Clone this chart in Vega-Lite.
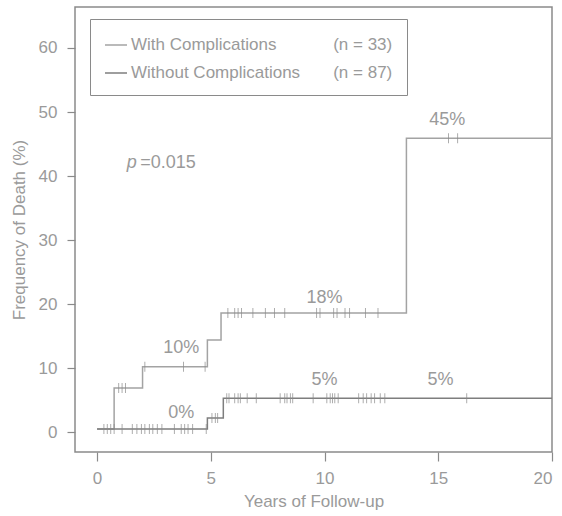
{
  "$schema": "https://vega.github.io/schema/vega-lite/v6.json",
  "width": 477,
  "height": 445,
  "autosize": {"type": "none"},
  "padding": {"left": 75, "top": 7, "right": 10, "bottom": 64},
  "background": "white",
  "config": {
    "view": {"stroke": "#8a8a8a", "strokeWidth": 1.5},
    "font": "Liberation Sans",
    "axis": {
      "domain": false,
      "grid": false,
      "tickColor": "#8a8a8a",
      "tickWidth": 1.2,
      "tickSize": 8,
      "labelColor": "#9a9a9a",
      "titleColor": "#9a9a9a",
      "labelFontSize": 17,
      "titleFontSize": 17,
      "titleFontWeight": "normal",
      "labelFont": "Liberation Sans",
      "titleFont": "Liberation Sans"
    }
  },
  "datasets": {
    "curves": [
      {"series": "With Complications", "t": 0, "pct": 0.5},
      {"series": "With Complications", "t": 0.75, "pct": 6.9},
      {"series": "With Complications", "t": 2.0, "pct": 10.2},
      {"series": "With Complications", "t": 4.85, "pct": 14.4},
      {"series": "With Complications", "t": 5.45, "pct": 18.6},
      {"series": "With Complications", "t": 13.6, "pct": 45.9},
      {"series": "With Complications", "t": 20, "pct": 45.9},
      {"series": "Without Complications", "t": 0, "pct": 0.5},
      {"series": "Without Complications", "t": 4.85, "pct": 2.2},
      {"series": "Without Complications", "t": 5.55, "pct": 5.3},
      {"series": "Without Complications", "t": 20, "pct": 5.3}
    ],
    "censor": [
      {"t": 0.3, "pct": 0.5}, {"t": 0.45, "pct": 0.5}, {"t": 0.6, "pct": 0.5}, {"t": 0.75, "pct": 0.5},
      {"t": 1.1, "pct": 0.5}, {"t": 1.55, "pct": 0.5}, {"t": 1.75, "pct": 0.5}, {"t": 1.95, "pct": 0.5},
      {"t": 2.1, "pct": 0.5}, {"t": 2.3, "pct": 0.5}, {"t": 2.45, "pct": 0.5}, {"t": 2.65, "pct": 0.5},
      {"t": 2.85, "pct": 0.5}, {"t": 3.4, "pct": 0.5}, {"t": 3.7, "pct": 0.5}, {"t": 3.85, "pct": 0.5},
      {"t": 4.0, "pct": 0.5}, {"t": 4.2, "pct": 0.5}, {"t": 4.8, "pct": 0.5},
      {"t": 5.05, "pct": 2.2}, {"t": 5.2, "pct": 2.2}, {"t": 5.3, "pct": 2.2},
      {"t": 5.7, "pct": 5.3}, {"t": 5.8, "pct": 5.3}, {"t": 6.05, "pct": 5.3}, {"t": 6.2, "pct": 5.3},
      {"t": 6.3, "pct": 5.3}, {"t": 6.6, "pct": 5.3}, {"t": 7.0, "pct": 5.3}, {"t": 8.05, "pct": 5.3},
      {"t": 8.25, "pct": 5.3}, {"t": 8.35, "pct": 5.3}, {"t": 8.5, "pct": 5.3}, {"t": 8.6, "pct": 5.3},
      {"t": 9.5, "pct": 5.3}, {"t": 10.1, "pct": 5.3}, {"t": 10.25, "pct": 5.3}, {"t": 10.35, "pct": 5.3},
      {"t": 10.45, "pct": 5.3}, {"t": 10.6, "pct": 5.3}, {"t": 11.5, "pct": 5.3}, {"t": 11.7, "pct": 5.3},
      {"t": 11.85, "pct": 5.3}, {"t": 12.05, "pct": 5.3}, {"t": 12.2, "pct": 5.3}, {"t": 12.45, "pct": 5.3},
      {"t": 12.65, "pct": 5.3}, {"t": 16.25, "pct": 5.3},
      {"t": 0.95, "pct": 6.9}, {"t": 1.1, "pct": 6.9}, {"t": 1.25, "pct": 6.9},
      {"t": 2.1, "pct": 10.2}, {"t": 3.8, "pct": 10.2}, {"t": 4.75, "pct": 10.2},
      {"t": 5.75, "pct": 18.6}, {"t": 6.05, "pct": 18.6}, {"t": 6.2, "pct": 18.6}, {"t": 6.35, "pct": 18.6},
      {"t": 6.85, "pct": 18.6}, {"t": 7.4, "pct": 18.6}, {"t": 7.8, "pct": 18.6}, {"t": 8.25, "pct": 18.6},
      {"t": 9.65, "pct": 18.6}, {"t": 9.8, "pct": 18.6}, {"t": 10.4, "pct": 18.6}, {"t": 10.55, "pct": 18.6},
      {"t": 10.9, "pct": 18.6}, {"t": 11.1, "pct": 18.6}, {"t": 11.8, "pct": 18.6}, {"t": 12.35, "pct": 18.6},
      {"t": 15.45, "pct": 45.9}, {"t": 15.85, "pct": 45.9}
    ],
    "notes": [
      {"t": 3.7, "pct": 13.1, "label": "10%"},
      {"t": 10.0, "pct": 20.9, "label": "18%"},
      {"t": 15.4, "pct": 48.8, "label": "45%"},
      {"t": 3.7, "pct": 3.0, "label": "0%"},
      {"t": 10.0, "pct": 8.1, "label": "5%"},
      {"t": 15.1, "pct": 8.1, "label": "5%"}
    ],
    "pnote": [{"t": 1.3, "pct": 42, "label": "p"}],
    "pval": [{"t": 1.9, "pct": 42, "label": "=0.015"}]
  },
  "encoding": {
    "x": {
      "field": "t",
      "type": "quantitative",
      "scale": {"domain": [-0.97, 20], "nice": false, "zero": false},
      "axis": {"values": [0, 5, 10, 15, 20], "title": "Years of Follow-up", "tickSize": 9, "labelPadding": 9, "titlePadding": 7}
    },
    "y": {
      "field": "pct",
      "type": "quantitative",
      "scale": {"domain": [-3.1, 66.4], "nice": false, "zero": false},
      "axis": {"values": [0, 10, 20, 30, 40, 50, 60], "title": "Frequency of Death (%)", "labelPadding": 10, "titlePadding": 10}
    }
  },
  "layer": [
    {
      "data": {"name": "curves"},
      "mark": {"type": "line", "interpolate": "step-after", "strokeWidth": 1.5},
      "encoding": {
        "color": {
          "field": "series",
          "type": "nominal",
          "scale": {"domain": ["With Complications", "Without Complications"], "range": ["#a3a3a3", "#7e7e7e"]},
          "legend": {
            "title": null,
            "orient": "none",
            "legendX": 15,
            "legendY": 12,
            "strokeColor": "#8a8a8a",
            "fillColor": "white",
            "padding": 14,
            "symbolType": "stroke",
            "symbolSize": 484,
            "symbolStrokeWidth": 1.5,
            "labelFontSize": 17,
            "labelColor": "#9a9a9a",
            "labelFont": "Liberation Sans",
            "labelOffset": 3,
            "labelLimit": 500,
            "rowPadding": 8,
            "labelExpr": "datum.label == 'With Complications' ? 'With Complications\u00a0\u00a0\u00a0\u00a0\u00a0\u00a0\u00a0\u00a0\u00a0\u00a0\u00a0\u00a0(n = 33)' : 'Without Complications\u00a0\u00a0\u00a0\u00a0\u00a0\u00a0\u00a0(n = 87)'"
          }
        }
      }
    },
    {
      "data": {"name": "censor"},
      "mark": {"type": "tick", "orient": "vertical", "size": 10, "thickness": 1, "color": "#8a8a8a"}
    },
    {
      "data": {"name": "notes"},
      "mark": {"type": "text", "fontSize": 18, "color": "#9a9a9a", "align": "center", "baseline": "middle", "font": "Liberation Sans"},
      "encoding": {"text": {"field": "label"}}
    },
    {
      "data": {"name": "pnote"},
      "mark": {"type": "text", "fontSize": 18, "fontStyle": "italic", "color": "#9a9a9a", "align": "left", "baseline": "middle", "font": "Liberation Sans"},
      "encoding": {"text": {"field": "label"}}
    },
    {
      "data": {"name": "pval"},
      "mark": {"type": "text", "fontSize": 18, "color": "#9a9a9a", "align": "left", "baseline": "middle", "font": "Liberation Sans"},
      "encoding": {"text": {"field": "label"}}
    }
  ]
}
